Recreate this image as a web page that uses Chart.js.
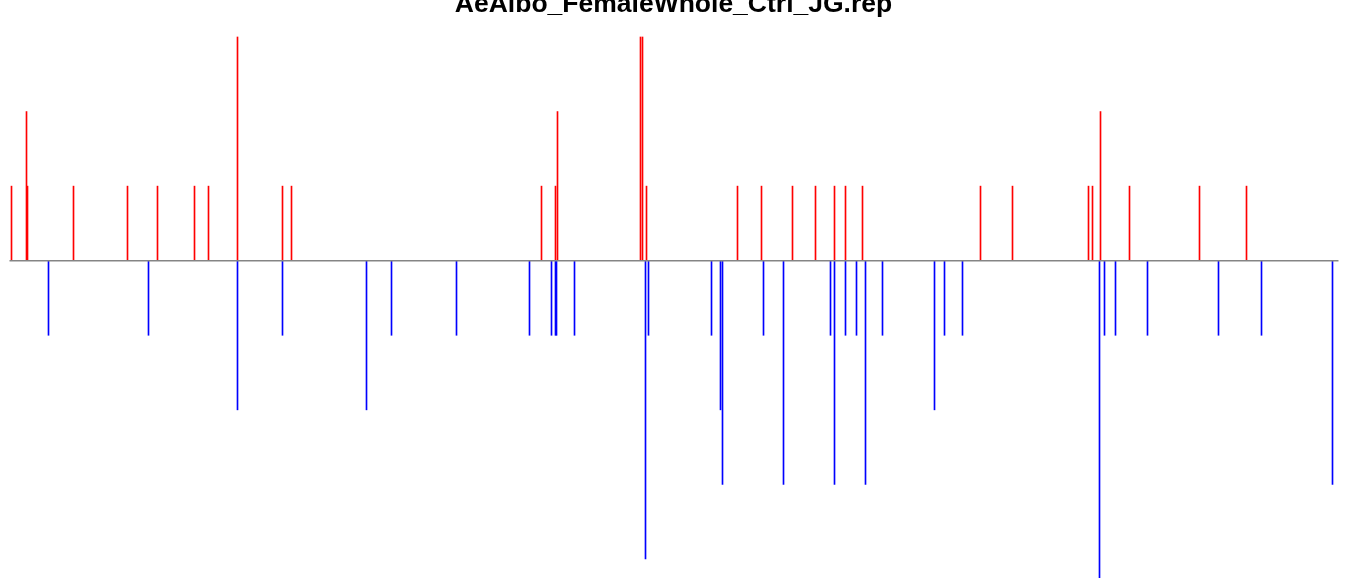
<!DOCTYPE html>
<html>
<head>
<meta charset="utf-8">
<script src="https://cdn.jsdelivr.net/npm/chart.js@4.4.1/dist/chart.umd.min.js"></script>
<style>
  html, body { margin: 0; padding: 0; background: #ffffff; overflow: hidden; }
  #wrap { position: relative; width: 1347px; height: 578px; }
  #title {
    position: absolute; left: 0; top: -10px; width: 1347px;
    text-align: center; font-family: "Liberation Sans", Arial, sans-serif;
    font-weight: bold; font-size: 26.5px; line-height: 26px; color: #000;
    z-index: 2; white-space: nowrap;
  }
  canvas { position: absolute; left: 0; top: 0; }
</style>
</head>
<body>
<div id="wrap">
  <div id="title">AeAlbo_FemaleWhole_Ctrl_JG.rep</div>
  <canvas id="c" width="1347" height="578"></canvas>
</div>
<script>
// Sequence range (baseline) in position units
const seqStart = -1;
const seqEnd = 1328;

// Plus-strand hits (drawn upward, red)
const plusPos   = [1,16,17,63,117,147,184,198,227,272,281,531,545,547,630,632,636,727,751,782,805,824,835,852,970,1002,1078,1082,1090,1119,1189,1236];
const plusCount = [1,2,1,1,1,1,1,1,3,1,1,1,1,2,3,3,1,1,1,1,1,1,1,1,1,1,1,1,2,1,1,1];

// Minus-strand hits (drawn downward, blue)
const minusPos   = [38,138,227,272,356,381,446,519,541,545,546,564,635,638,701,710,712,753,773,820,824,835,846,855,872,924,934,952,1089,1094,1105,1137,1208,1251,1322];
const minusCount = [-1,-1,-2,-1,-2,-1,-1,-1,-1,-1,-1,-1,-4,-1,-1,-2,-3,-1,-3,-1,-3,-1,-1,-3,-1,-2,-1,-1,-5,-1,-1,-1,-1,-1,-3];

// Visible axis window
const xMin = -10.5, xMax = 1336.5;
const yMin = -4.255, yMax = 3.496;

const plusData = plusPos.map((p, i) => ({ x: p, y: plusCount[i] }));
const minusData = minusPos.map((p, i) => ({ x: p, y: minusCount[i] }));

new Chart(document.getElementById('c'), {
  type: 'bar',
  data: {
    datasets: [
      {
        type: 'line',
        label: 'baseline',
        data: [{ x: seqStart, y: 0 }, { x: seqEnd, y: 0 }],
        borderColor: '#858585',
        borderWidth: 1.6,
        pointRadius: 0,
        fill: false,
        order: 0
      },
      {
        label: 'plus',
        data: plusData,
        backgroundColor: '#ff0000',
        borderWidth: 0,
        barThickness: 1,
        grouped: false,
        order: 1
      },
      {
        label: 'minus',
        data: minusData,
        backgroundColor: '#0000ff',
        borderWidth: 0,
        barThickness: 1,
        grouped: false,
        order: 1
      }
    ]
  },
  options: {
    responsive: false,
    animation: false,
    layout: { padding: 0 },
    plugins: {
      legend: { display: false },
      tooltip: { enabled: false },
      title: { display: false }
    },
    scales: {
      x: { type: 'linear', min: xMin, max: xMax, display: false, offset: false },
      y: { type: 'linear', min: yMin, max: yMax, display: false }
    }
  }
});
</script>
</body>
</html>
